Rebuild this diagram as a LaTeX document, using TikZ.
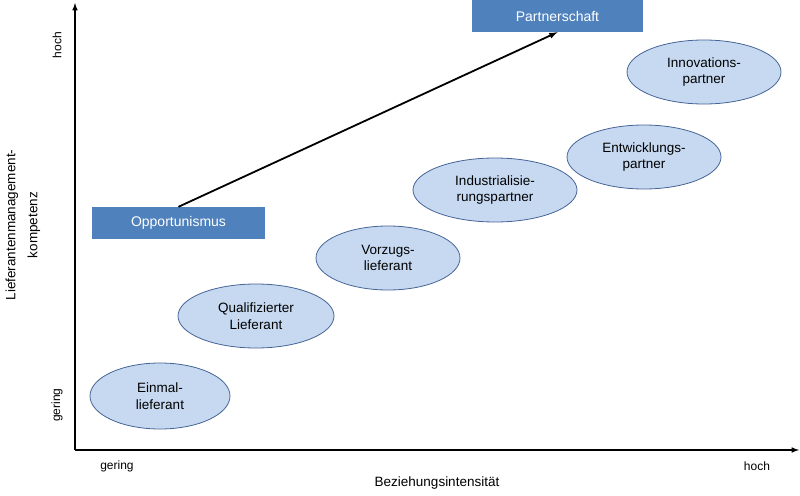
\documentclass[tikz,border=0pt]{standalone}
\usepackage{fontspec}
\setmainfont{Liberation Sans}
\definecolor{ellfill}{RGB}{198,217,241}
\definecolor{elldraw}{RGB}{70,100,150}
\definecolor{boxfill}{RGB}{79,129,189}
\begin{document}
\begin{tikzpicture}[x=1pt,y=-1pt,
  ellst/.style={fill=ellfill, draw=elldraw, line width=0.8pt},
  bx/.style={fill=boxfill, text=white, font=\fontsize{14}{16}\selectfont},
  tx/.style={align=center, font=\fontsize{13.5}{16.5}\selectfont},
  lb/.style={font=\fontsize{12}{14}\selectfont}]
\useasboundingbox (0,0) rectangle (800,495);
\coordinate (o) at (75,450);
\coordinate (ytop) at (75,3);
\coordinate (xend) at (799,450);
\draw[line width=1.5pt,-latex] (o) -- (ytop);
\draw[line width=1.5pt,-latex] (o) -- (xend);
\node[lb,rotate=90] (yh) at (57,45) {hoch};
\node[lb,rotate=90] (yg) at (57,405) {gering};
\node[lb,rotate=90,align=center,font=\fontsize{13.5}{22}\selectfont] (yl) at (23,225) {Lieferantenmanagement-\\kompetenz};
\node[lb] (xg) at (117,466) {gering};
\node[lb] (xh) at (757,466) {hoch};
\node[font=\fontsize{13.5}{16}\selectfont] (xl) at (437,483) {Beziehungsintensität};
\def\E#1#2#3#4{\draw[ellst] (#1,#2) ellipse [x radius=#3,y radius=#4];}
\E{160}{396}{70}{33}
\E{256}{316}{78}{32}
\E{388}{258}{72}{32}
\E{495}{190}{82}{32}
\E{644}{157}{77}{32}
\E{704}{72}{77}{32}
\node[tx] (a) at (160,396) {Einmal-\\lieferant};
\node[tx] (b) at (256,316) {Qualifizierter\\Lieferant};
\node[tx] (c) at (388,258) {Vorzugs-\\lieferant};
\node[tx] (d) at (495,190) {Industrialisie-\\rungspartner};
\node[tx] (e) at (644,157) {Entwicklungs-\\partner};
\node[tx] (f) at (704,72) {Innovations-\\partner};
\node[bx,minimum width=173,minimum height=32,inner sep=0] (op) at (178.5,223) {Opportunismus};
\node[bx,minimum width=171,minimum height=32,inner sep=0] (ps) at (557.5,16) {Partnerschaft};
\draw[line width=1.8pt,-latex] (op.north) -- (ps.south);
\end{tikzpicture}
\end{document}
